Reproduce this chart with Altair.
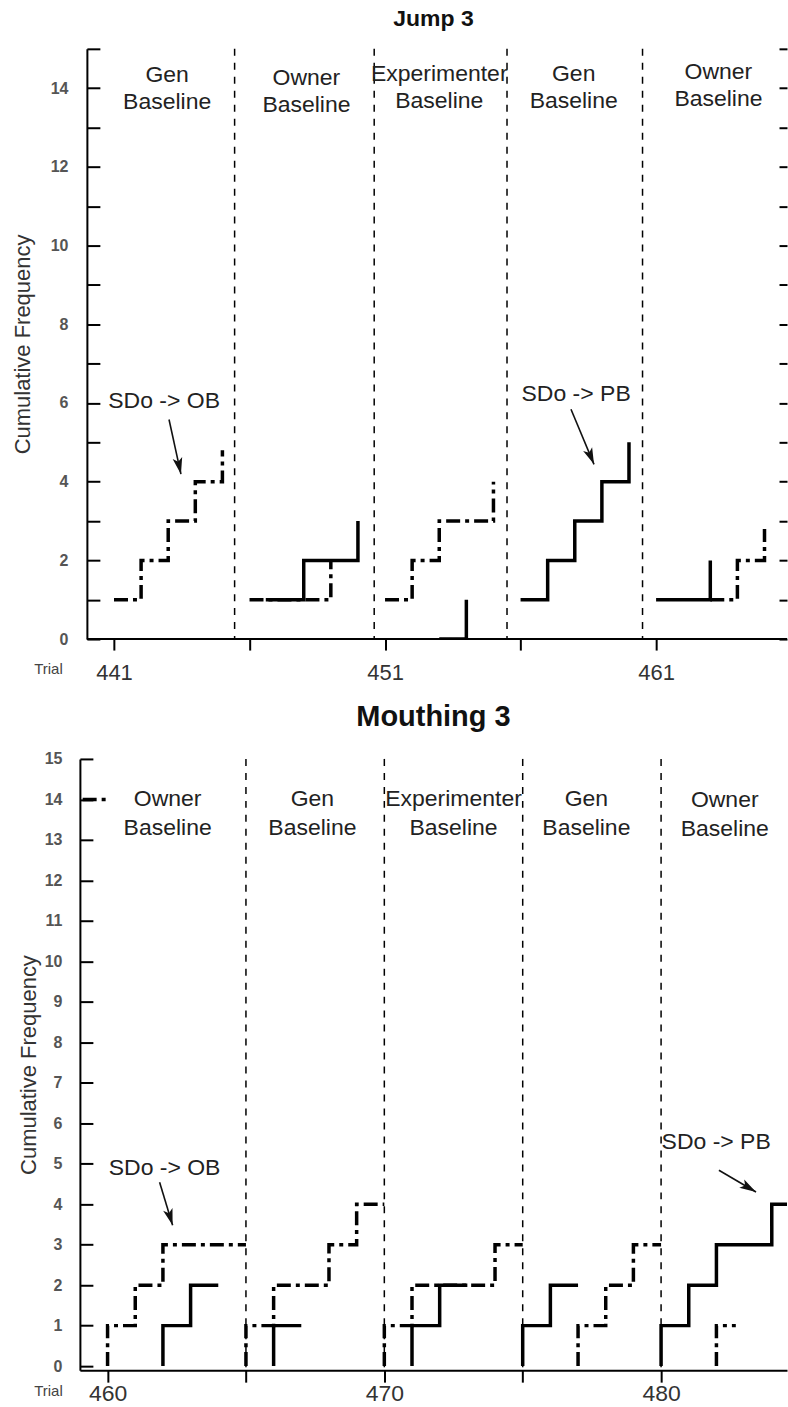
import math
import altair as alt
import pandas as pd

FONT = "Liberation Sans"

# ---------------- Jump 3 (top panel) ----------------
J_TITLE = "Jump 3"
J_W, J_H = 708, 591
J_X_DOMAIN = [439.742, 465.83]
J_Y_DOMAIN = [0, 15]
J_X_TICKS = [441, 446, 451, 456, 461]
J_X_LABELLED = [441, 451, 461]
J_X_LINE_START = 440
J_Y_LABELS = [0, 2, 4, 6, 8, 10, 12, 14]
J_Y_TICKS = list(range(0, 16))
J_PHASE_LINES = [445.45, 450.6, 455.5, 460.5]
J_PHASE_NAMES = ["Gen\nBaseline", "Owner\nBaseline", "Experimenter\nBaseline", "Gen\nBaseline", "Owner\nBaseline"]
J_PHASE_X = [442.96, 448.1, 453.0, 457.96, 463.3]
J_PHASE_Y = [14.34, 14.26, 14.37, 14.37, 14.42]

# cumulative records (step lines)
J_DD1_T, J_DD1_V = [441, 442, 443, 444, 445], [1, 2, 3, 4, 4.8]
J_DD2_T, J_DD2_V = [446, 449], [1, 2]
J_S2_T, J_S2_V = [446.6, 448, 450], [1, 2, 3]
J_DD3_T, J_DD3_V = [451, 452, 453, 455], [1, 2, 3, 4]
J_S3_T, J_S3_V = [453, 454], [0, 1]
J_S4_T, J_S4_V = [456, 457, 458, 459, 460], [1, 2, 3, 4, 5]
J_S5_T, J_S5_V = [461, 463], [1, 2]
J_DD5_T, J_DD5_V = [463, 464, 465], [1, 2, 2.8]

J_NOTE_TEXT = ["SDo -> OB", "SDo -> PB"]
J_NOTE_X = [442.85, 458.05]
J_NOTE_Y = [6.04, 6.24]
J_ARROW_X0 = [443.03, 457.86]
J_ARROW_Y0 = [5.58, 5.84]
J_ARROW_X1 = [443.47, 458.71]
J_ARROW_Y1 = [4.19, 4.44]

# ---------------- Mouthing 3 (bottom panel) ----------------
M_TITLE = "Mouthing 3"
M_W, M_H = 708, 612
M_X_DOMAIN = [459, 484.55]
M_Y_DOMAIN = [-0.1, 15]
M_X_TICKS = [460, 465, 470, 475, 480]
M_X_LABELLED = [460, 470, 480]
M_Y_LABELS = list(range(0, 16))
M_Y_TICKS = list(range(0, 16))
M_PHASE_LINES = [465, 470, 475, 480]
M_PHASE_NAMES = ["Owner\nBaseline", "Gen\nBaseline", "Experimenter\nBaseline", "Gen\nBaseline", "Owner\nBaseline"]
M_PHASE_X = [462.17, 467.4, 472.5, 477.3, 482.3]
M_PHASE_Y = [14.01, 14.01, 14.01, 14.01, 13.98]

M_DD0_T, M_DD0_V = [459.1, 460], [14, 14]
M_DD1_T, M_DD1_V = [460, 460, 461, 462, 465], [0, 1, 2, 3, 3]
M_S1_T, M_S1_V = [462, 462, 463, 464], [0, 1, 2, 2]
M_DD2_T, M_DD2_V = [465, 465, 466, 468, 469, 470], [0, 1, 2, 3, 4, 4]
M_S2_T, M_S2_V = [466, 466, 467], [0, 1, 1]
M_DD3_T, M_DD3_V = [470, 470, 471, 474, 475], [0, 1, 2, 3, 3]
M_S3_T, M_S3_V = [471, 471, 472, 473], [0, 1, 2, 2]
M_S4_T, M_S4_V = [475, 475, 476, 477], [0, 1, 2, 2]
M_DD4_T, M_DD4_V = [477, 477, 478, 479, 480], [0, 1, 2, 3, 3]
M_S5_T, M_S5_V = [480, 480, 481, 482, 484, 484.55], [0, 1, 2, 3, 4, 4]
M_DD5_T, M_DD5_V = [482, 482, 482.7], [0, 1, 1]

M_NOTE_TEXT = ["SDo -> OB", "SDo -> PB"]
M_NOTE_X = [462.06, 481.99]
M_NOTE_Y = [4.89, 5.53]
M_ARROW_X0 = [461.88, 482.09]
M_ARROW_Y0 = [4.54, 4.84]
M_ARROW_X1 = [462.35, 483.43]
M_ARROW_Y1 = [3.48, 4.30]

ARROW_SHAPE = "M0,0L0.5,1.7L0,1.3L-0.5,1.7Z"


def series_frame(series):
    rows = []
    for k, (style, ts, vs) in enumerate(series):
        for i, (t, v) in enumerate(zip(ts, vs)):
            rows.append({"seg": k, "style": style, "trial": t, "value": v, "ord": i})
    return pd.DataFrame(rows)


def panel(title, title_size, title_offset, W, H, xdom, ydom, xticks, xlabelled, ylabels, yticks,
          phase_lines, phase_names, phase_x, phase_y, phase_lh, series,
          note_text, note_x, note_y, ax0, ay0, ax1, ay1,
          xlabel_size, xlabel_pad, xtick_size, trial_x, trial_y,
          y_offset, y_extent, y_title_pad, y_label_pad, right_ticks, x_line_start=None):
    xs = alt.Scale(domain=xdom, nice=False, zero=False)
    ys = alt.Scale(domain=ydom, nice=False, zero=False)
    expr = "indexof([" + ",".join(str(v) for v in xlabelled) + "], datum.value) >= 0 ? datum.label : ''"
    xaxis = alt.Axis(values=xticks, labelExpr=expr, title="Trial", titleX=trial_x, titleY=trial_y,
                     titleAlign="center", titleBaseline="middle", titleFontSize=15,
                     titleFontWeight="normal", titleColor="#444", titleFont=FONT,
                     labelFont=FONT, labelFontSize=xlabel_size, labelColor="#333",
                     labelPadding=xlabel_pad, labelFlush=False, tickSize=xtick_size, tickWidth=2,
                     tickColor="black", domain=(x_line_start is None),
                     domainColor="black", domainWidth=2, grid=False)
    yaxis = alt.Axis(values=ylabels, ticks=False, tickSize=0, domainColor="black", domainWidth=2,
                     offset=y_offset,
                     labelFont=FONT, labelFontSize=16, labelColor="#555", labelFontWeight="bold",
                     labelPadding=y_label_pad, title="Cumulative Frequency", titleFont=FONT,
                     titleFontSize=22, titleFontWeight="normal", titleColor="#333",
                     titlePadding=y_title_pad, minExtent=y_extent, maxExtent=y_extent, grid=False)
    inward = alt.Axis(orient="right", offset=-(W + y_offset), values=yticks, tickSize=13, tickWidth=2,
                      tickColor="black", domain=False, labels=False, title=None, grid=False)

    X = lambda: alt.X("trial:Q", scale=xs, axis=xaxis)

    df = series_frame(series)
    lines = alt.Chart(df).mark_line(interpolate="step-after", strokeWidth=3.5, color="black",
                                    clip=True).encode(
        x=X(),
        y=alt.Y("value:Q", scale=ys, axis=yaxis),
        detail="seg:N",
        order="ord:Q",
        strokeDash=alt.StrokeDash("style:N", scale=alt.Scale(domain=["solid", "dashdot"],
                                                             range=[[1, 0], [14, 5, 4, 5]]), legend=None),
    )

    rules = alt.Chart(pd.DataFrame({"trial": phase_lines})).mark_rule(
        color="black", strokeWidth=1.5, strokeDash=[7, 7]).encode(x=X())

    labels = alt.Chart(pd.DataFrame({"name": phase_names, "trial": phase_x, "value": phase_y})).mark_text(
        font=FONT, fontSize=23, color="#222", lineBreak="\n", lineHeight=phase_lh,
        align="center", baseline="middle").encode(
        x=X(),
        y=alt.Y("value:Q", scale=ys, axis=inward),
        text="name:N")

    notes = alt.Chart(pd.DataFrame({"t": note_text, "trial": note_x, "value": note_y})).mark_text(
        font=FONT, fontSize=23, color="#222", align="center", baseline="middle").encode(
        x=X(),
        y=alt.Y("value:Q", scale=ys,
                axis=(alt.Axis(orient="right", offset=-8, values=yticks, tickSize=8, tickWidth=2,
                               tickColor="black", domain=False, labels=False, title=None, grid=False)
                      if right_ticks else None)),
        text="t:N")

    ppt = W / (xdom[1] - xdom[0])
    ppu = H / (ydom[1] - ydom[0])
    arows, hrows = [], []
    for k in range(len(ax0)):
        arows.append({"a": k, "trial": ax0[k], "value": ay0[k], "o": 0})
        arows.append({"a": k, "trial": ax1[k], "value": ay1[k], "o": 1})
        ang = math.degrees(math.atan2((ax1[k] - ax0[k]) * ppt, (ay1[k] - ay0[k]) * ppu))
        if ang < 0:
            ang += 360
        hrows.append({"trial": ax1[k], "value": ay1[k], "ang": ang})
    shafts = alt.Chart(pd.DataFrame(arows)).mark_line(color="#111", strokeWidth=1.6).encode(
        x=X(),
        y=alt.Y("value:Q", scale=ys, axis=None),
        detail="a:N", order="o:Q")
    heads = alt.Chart(pd.DataFrame(hrows)).mark_point(
        shape=ARROW_SHAPE, filled=True, color="#111", size=380, opacity=1).encode(
        x=X(),
        y=alt.Y("value:Q", scale=ys, axis=None),
        angle=alt.Angle("ang:Q", scale=None))

    layers = [lines, rules, labels, notes, shafts, heads]
    if x_line_start is not None:
        base = alt.Chart(pd.DataFrame({"x0": [x_line_start], "x1": [xdom[1]], "v": [ydom[0]]})).mark_rule(
            color="black", strokeWidth=2).encode(
            x=alt.X("x0:Q", scale=xs, axis=xaxis), x2="x1:Q",
            y=alt.Y("v:Q", scale=ys, axis=None))
        layers.append(base)

    return alt.layer(*layers).resolve_axis(y="independent").properties(
        width=W, height=H,
        title=alt.TitleParams(title, fontSize=title_size, fontWeight="bold", font=FONT, color="#111",
                              anchor="middle", offset=title_offset))


top = panel(J_TITLE, 23, 17, J_W, J_H, J_X_DOMAIN, J_Y_DOMAIN, J_X_TICKS, J_X_LABELLED, J_Y_LABELS, J_Y_TICKS,
            J_PHASE_LINES, J_PHASE_NAMES, J_PHASE_X, J_PHASE_Y, 27,
            [("dashdot", J_DD1_T, J_DD1_V), ("dashdot", J_DD2_T, J_DD2_V), ("solid", J_S2_T, J_S2_V),
             ("dashdot", J_DD3_T, J_DD3_V), ("solid", J_S3_T, J_S3_V), ("solid", J_S4_T, J_S4_V),
             ("solid", J_S5_T, J_S5_V), ("dashdot", J_DD5_T, J_DD5_V)],
            J_NOTE_TEXT, J_NOTE_X, J_NOTE_Y, J_ARROW_X0, J_ARROW_Y0, J_ARROW_X1, J_ARROW_Y1,
            22, 12, 11, -32, 29, -7, 40, 12.5, 19, True, x_line_start=J_X_LINE_START)

bottom = panel(M_TITLE, 29, 19, M_W, M_H, M_X_DOMAIN, M_Y_DOMAIN, M_X_TICKS, M_X_LABELLED, M_Y_LABELS, M_Y_TICKS,
               M_PHASE_LINES, M_PHASE_NAMES, M_PHASE_X, M_PHASE_Y, 29,
               [("dashdot", M_DD0_T, M_DD0_V), ("dashdot", M_DD1_T, M_DD1_V), ("solid", M_S1_T, M_S1_V),
                ("dashdot", M_DD2_T, M_DD2_V), ("solid", M_S2_T, M_S2_V), ("dashdot", M_DD3_T, M_DD3_V),
                ("solid", M_S3_T, M_S3_V), ("solid", M_S4_T, M_S4_V), ("dashdot", M_DD4_T, M_DD4_V),
                ("solid", M_S5_T, M_S5_V), ("dashdot", M_DD5_T, M_DD5_V)],
               M_NOTE_TEXT, M_NOTE_X, M_NOTE_Y, M_ARROW_X0, M_ARROW_Y0, M_ARROW_X1, M_ARROW_Y1,
               23, 0, 12, -32, 20, 0, 37, 2.5, 18, False)

chart = alt.vconcat(top, bottom, spacing=20).properties(
    padding={"left": 11, "top": 7, "right": 0, "bottom": 0},
    background="white",
).configure_view(stroke=None)

chart.save("out.html", embed_options={"renderer": "svg", "actions": False})
